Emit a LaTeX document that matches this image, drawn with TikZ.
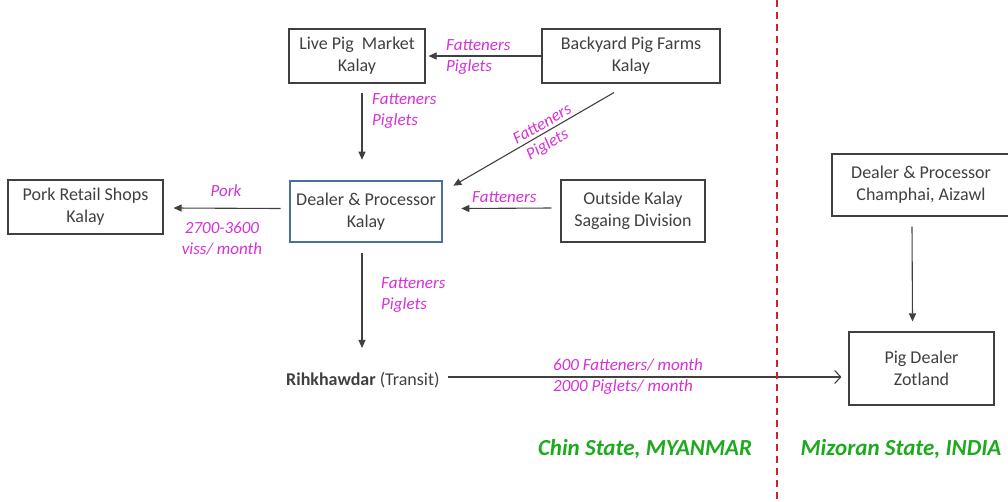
\documentclass[tikz,border=0pt]{standalone}
\usepackage{fontspec}
\setmainfont{Carlito}
\usetikzlibrary{arrows.meta}
\definecolor{mmag}{RGB}{214,48,214}
\definecolor{mgreen}{RGB}{30,170,30}
\definecolor{mblue}{RGB}{74,110,160}
\definecolor{mgray}{RGB}{64,64,64}
\definecolor{mred}{RGB}{210,35,45}
\tikzset{box/.style = {draw=mgray, line width=1.1pt, text=mgray, align=center,
                       font=\fontsize{18}{22}\selectfont, inner sep=0pt}}
\tikzset{mainbox/.style = {box, draw=mblue, line width=2.6pt}}
\tikzset{flow/.style = {text=mmag, font=\fontsize{17}{21}\selectfont\itshape,
                        inner sep=0pt, align=left}}
\tikzset{region/.style = {text=mgreen, font=\fontsize{23}{27}\selectfont\bfseries\itshape}}
\tikzset{arr/.style = {draw=mgray, line width=1.1pt, -{Triangle[length=8pt,width=7pt]}}}
\tikzset{openarr/.style = {draw=mgray, line width=1.1pt, -{Straight Barb[length=6pt,width=13pt]}}}

\begin{document}
\begin{tikzpicture}[x=1pt, y=-1pt]
    \useasboundingbox (0, 0) rectangle (1008, 501);

    \node [box, minimum width=136, minimum height=54] (live) at (357, 56) {Live Pig~~Market\\Kalay};
    \node [box, minimum width=178, minimum height=54] (back) at (631, 56) {Backyard Pig Farms\\Kalay};
    \node [box, minimum width=155, minimum height=54] (pork) at (85.5, 207) {Pork Retail Shops\\Kalay};
    \node [mainbox, minimum width=152, minimum height=61] (dealer) at (366, 211.5) {Dealer \& Processor\\Kalay};
    \node [box, minimum width=144, minimum height=62] (outside) at (633, 211) {Outside Kalay\\Sagaing Division};
    \node [box, minimum width=178, minimum height=62] (champhai) at (921, 185) {Dealer \& Processor\\Champhai, Aizawl};
    \node [box, minimum width=145, minimum height=73] (zotland) at (921.5, 368.5) {Pig Dealer\\Zotland};
    \node [text=mgray, font=\fontsize{18}{22}\selectfont, inner sep=0pt, anchor=west] (rihk) at (286, 380)
          {\textbf{Rihkhawdar} (Transit)};

    \draw [arr] (back.west) -- ([xshift=3pt]live.east);
    \draw [arr] ([xshift=5pt, yshift=-9pt]live.south) -- ([xshift=-4pt, yshift=20pt]dealer.north);
    \draw [arr] ([xshift=-17pt, yshift=-9pt]back.south) -- ([xshift=10pt, yshift=-6pt]dealer.north east)
          node [flow, sloped, pos=0.42, above=3pt] {Fatteners}
          node [flow, sloped, pos=0.45, below=4pt] {Piglets};
    \draw [arr] ([xshift=-9pt, yshift=3pt]outside.west) -- ([xshift=18pt, yshift=3pt]dealer.east);
    \draw [arr] ([xshift=-8pt, yshift=3pt]dealer.west) -- ([xshift=10pt, yshift=-1pt]pork.east);
    \draw [arr] ([xshift=-4pt, yshift=-10pt]dealer.south) -- ([xshift=-4pt, yshift=24pt]rihk.north -| dealer.south);
    \draw [openarr] ([xshift=8pt, yshift=3pt]rihk.east) -- ([xshift=-7pt, yshift=-8.5pt]zotland.west);
    \draw [arr] ([xshift=-9pt, yshift=-10pt]champhai.south) -- ([xshift=-9pt, yshift=10pt]zotland.north);

    \node [flow, anchor=west] (f1) at (446, 57) {Fatteners\\Piglets};
    \node [flow, anchor=west] (f2) at (372, 111) {Fatteners\\Piglets};
    \node [flow, anchor=west] (f3) at (472, 197) {Fatteners};
    \node [flow] (f4) at (226, 191) {Pork};
    \node [flow, align=center] (f5) at (222, 239) {2700-3600\\viss/ month};
    \node [flow, anchor=west] (f6) at (381, 295) {Fatteners\\Piglets};
    \node [flow, anchor=west] (f7) at (553, 377) {600 Fatteners/ month\\2000 Piglets/ month};

    \draw [mred, line width=2pt, dash pattern=on 7pt off 5pt] (777, 0) -- (777, 501);

    \node [region] (chin) at (645, 449) {Chin State, MYANMAR};
    \node [region] (mizo) at (901, 449) {Mizoran State, INDIA};
\end{tikzpicture}
\end{document}
